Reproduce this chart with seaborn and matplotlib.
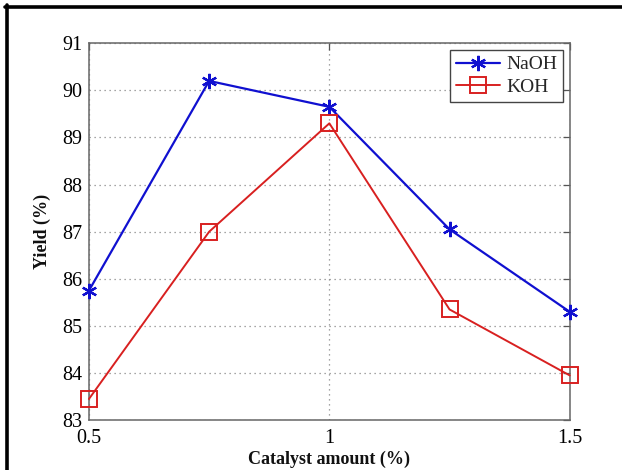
import numpy as np
import pandas as pd
import seaborn as sns
import matplotlib.pyplot as plt
from matplotlib.lines import Line2D

catalyst = [0.5, 0.75, 1.0, 1.25, 1.5]
naoh_yield = [85.75, 90.2, 89.65, 87.05, 85.3]
koh_yield = [83.45, 87.0, 89.3, 85.35, 83.95]

sns.set_style("white")
plt.rcParams['font.family'] = ['Liberation Serif', 'DejaVu Serif']

df_naoh = pd.DataFrame({"x": catalyst, "y": naoh_yield})
df_koh = pd.DataFrame({"x": catalyst, "y": koh_yield})

fig = plt.figure(figsize=(6.22, 4.70), dpi=100)
ax = fig.add_axes([0.143, 0.106, 0.773, 0.802])

sns.lineplot(data=df_naoh, x="x", y="y", ax=ax, color="#1010d0", linewidth=1.6,
             marker=(6, 2, 0), markersize=11, markeredgecolor="#1010d0",
             markeredgewidth=1.6, label="NaOH", clip_on=False, zorder=3)
sns.lineplot(data=df_koh, x="x", y="y", ax=ax, color="#d82020", linewidth=1.4,
             marker="s", markersize=11, markeredgecolor="#d82020",
             markerfacecolor="none", markeredgewidth=1.4, label="KOH",
             clip_on=False, zorder=3)

ax.set_xlim(0.5, 1.5)
ax.set_ylim(83, 91)
ax.set_xticks([0.5, 1, 1.5])
ax.set_xticklabels(["0.5", "1", "1.5"])
ax.set_yticks(range(83, 92))

ax.grid(True, linestyle=(0, (1, 3)), color="#888888", linewidth=0.9)
ax.tick_params(direction="in", top=True, right=True, length=5, width=0.9,
               colors="#555555", labelcolor="black", labelsize=14.5)
ax.tick_params(axis="x", pad=6)
ax.tick_params(axis="y", pad=5)
for s in ax.spines.values():
    s.set_color("#666666")
    s.set_linewidth(1.1)

ax.set_xlabel("Catalyst amount (%)", fontsize=13, fontweight="bold", color="#111111", labelpad=2)
ax.set_ylabel("Yield (%)", fontsize=13, fontweight="bold", color="#111111", labelpad=8)

leg = ax.legend(loc="upper right", fontsize=14, handlelength=2.3, fancybox=False,
                framealpha=1, edgecolor="#444444", borderpad=0.3,
                labelspacing=0.25, handletextpad=0.3, borderaxespad=0.35)
leg.get_frame().set_linewidth(1.0)

# black frame on top and left of the picture
fig.add_artist(Line2D([0.008, 1.0], [0.986, 0.986], color="black", linewidth=2.6))
fig.add_artist(Line2D([0.0105, 0.0105], [0.0, 0.989], color="black", linewidth=2.6))

fig.savefig("out.png", dpi=100)
